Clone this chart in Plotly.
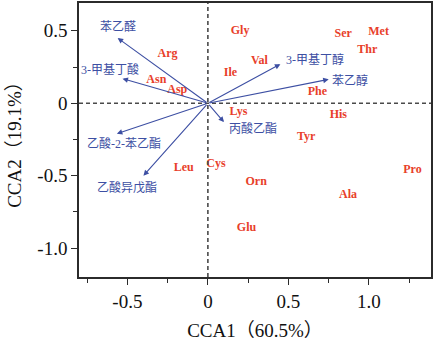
import plotly.graph_objects as go

# Amino acid scores on the first two canonical axes
amino_acids = ["Gly", "Ser", "Met", "Thr", "Val", "Ile", "Phe", "Lys", "His", "Tyr",
               "Cys", "Pro", "Orn", "Ala", "Glu", "Leu", "Arg", "Asn", "Asp"]
amino_cca1 = [0.20, 0.84, 1.06, 0.99, 0.32, 0.14, 0.68, 0.19, 0.81, 0.61,
              0.05, 1.27, 0.30, 0.87, 0.24, -0.15, -0.25, -0.32, -0.19]
amino_cca2 = [0.50, 0.48, 0.49, 0.37, 0.29, 0.21, 0.075, -0.06, -0.08, -0.23,
              -0.42, -0.46, -0.54, -0.63, -0.86, -0.45, 0.34, 0.16, 0.09]

# Volatile compound loadings (arrow tips)
volatiles = ["苯乙醛", "3-甲基丁酸", "乙酸-2-苯乙酯", "乙酸异戊酯", "丙酸乙酯", "3-甲基丁醇", "苯乙醇"]
vol_cca1 = [-0.56, -0.53, -0.565, -0.40, 0.10, 0.45, 0.75]
vol_cca2 = [0.45, 0.17, -0.21, -0.50, -0.13, 0.27, 0.165]

x_tickvals = [-0.5, 0, 0.5, 1.0]
x_ticktext = ["-0.5", "0", "0.5", "1.0"]
y_tickvals = [-1.0, -0.5, 0, 0.5]
y_ticktext = ["-1.0", "-0.5", "0", "0.5"]

# pixel offsets of compound names relative to their arrow tips
label_shift = [(0, 12), (-13, 9), (7, -10), (-16, -12), (29, -6), (35, 5), (21, -1)]

RED = "#e8402a"
BLUE = "#3d4fa3"
AXIS = "#2b2b2b"
SERIF = "Liberation Serif, Times New Roman, serif"
CJK = "Liberation Serif, Noto Sans CJK SC, serif"

fig = go.Figure()

fig.add_trace(go.Scatter(
    x=amino_cca1, y=amino_cca2, text=amino_acids, mode="text",
    textposition="middle center",
    textfont=dict(family=SERIF, size=12, color=RED, weight="bold"),
    hoverinfo="skip", showlegend=False,
))

annotations = []
for name, vx, vy, (dx, dy) in zip(volatiles, vol_cca1, vol_cca2, label_shift):
    annotations.append(dict(
        x=vx, y=vy, ax=0, ay=0, xref="x", yref="y", axref="x", ayref="y",
        showarrow=True, arrowhead=2, arrowsize=1.0, arrowwidth=1.1,
        arrowcolor=BLUE, standoff=0, startstandoff=0, text="",
    ))
    annotations.append(dict(
        x=vx, y=vy, xref="x", yref="y", text=name, showarrow=False,
        xshift=dx, yshift=dy,
        font=dict(family=CJK, size=12, color=BLUE),
    ))

fig.add_hline(y=0, line=dict(color="#4a4a4a", width=1.6, dash="4px,3px"))
fig.add_vline(x=0, line=dict(color="#4a4a4a", width=1.6, dash="4px,3px"))

axis_common = dict(
    showgrid=False, zeroline=False, showline=True, mirror=True,
    linecolor=AXIS, linewidth=1.5, ticks="outside", ticklen=6, tickwidth=1.3,
    tickcolor=AXIS, tickfont=dict(family=SERIF, size=19, color="#111"),
)

fig.update_layout(
    width=434, height=345,
    margin=dict(l=79, r=3, t=1, b=68),
    paper_bgcolor="white", plot_bgcolor="white",
    annotations=annotations,
    xaxis=dict(
        range=[-0.80, 1.385], tickvals=x_tickvals, ticktext=x_ticktext,
        minor=dict(ticks="outside", dtick=0.25, tick0=0, ticklen=4, tickcolor=AXIS, tickwidth=1.2),
        title=dict(text="CCA1（60.5%）", font=dict(family=CJK, size=19, color="#111"), standoff=13),
        **axis_common,
    ),
    yaxis=dict(
        range=[-1.199, 0.692], tickvals=y_tickvals, ticktext=y_ticktext,
        minor=dict(ticks="outside", dtick=0.25, tick0=0, ticklen=4, tickcolor=AXIS, tickwidth=1.2),
        title=dict(text="CCA2（19.1%）", font=dict(family=CJK, size=19, color="#111"), standoff=11),
        **axis_common,
    ),
)

fig.write_html("out.html")
